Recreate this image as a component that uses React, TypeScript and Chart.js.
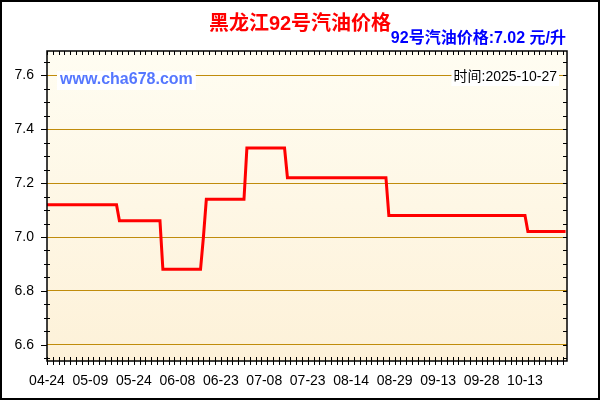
import React, { useEffect, useRef } from 'react'
import { Chart, registerables } from 'chart.js'

Chart.register(...registerables)

const FONT = '"Liberation Sans", Arial, "Noto Sans CJK SC", sans-serif'

// 横轴标签, 每 15 个数据点一个
const xTickLabels = ['04-24', '05-09', '05-24', '06-08', '06-23', '07-08', '07-23', '08-14', '08-29', '09-13', '09-28', '10-13']
const yTickValues = [6.6, 6.8, 7.0, 7.2, 7.4, 7.6]

// 每日价格 (元/升), 每行 15 个点
const price = [
  7.12, 7.12, 7.12, 7.12, 7.12, 7.12, 7.12, 7.12, 7.12, 7.12, 7.12, 7.12, 7.12, 7.12, 7.12,
  7.12, 7.12, 7.12, 7.12, 7.12, 7.12, 7.12, 7.12, 7.12, 7.12, 7.06, 7.06, 7.06, 7.06, 7.06,
  7.06, 7.06, 7.06, 7.06, 7.06, 7.06, 7.06, 7.06, 7.06, 7.06, 6.88, 6.88, 6.88, 6.88, 6.88,
  6.88, 6.88, 6.88, 6.88, 6.88, 6.88, 6.88, 6.88, 6.88, 7.00, 7.14, 7.14, 7.14, 7.14, 7.14,
  7.14, 7.14, 7.14, 7.14, 7.14, 7.14, 7.14, 7.14, 7.14, 7.33, 7.33, 7.33, 7.33, 7.33, 7.33,
  7.33, 7.33, 7.33, 7.33, 7.33, 7.33, 7.33, 7.33, 7.22, 7.22, 7.22, 7.22, 7.22, 7.22, 7.22,
  7.22, 7.22, 7.22, 7.22, 7.22, 7.22, 7.22, 7.22, 7.22, 7.22, 7.22, 7.22, 7.22, 7.22, 7.22,
  7.22, 7.22, 7.22, 7.22, 7.22, 7.22, 7.22, 7.22, 7.22, 7.22, 7.22, 7.22, 7.22, 7.08, 7.08,
  7.08, 7.08, 7.08, 7.08, 7.08, 7.08, 7.08, 7.08, 7.08, 7.08, 7.08, 7.08, 7.08, 7.08, 7.08,
  7.08, 7.08, 7.08, 7.08, 7.08, 7.08, 7.08, 7.08, 7.08, 7.08, 7.08, 7.08, 7.08, 7.08, 7.08,
  7.08, 7.08, 7.08, 7.08, 7.08, 7.08, 7.08, 7.08, 7.08, 7.08, 7.08, 7.08, 7.08, 7.08, 7.08,
  7.08, 7.02, 7.02, 7.02, 7.02, 7.02, 7.02, 7.02, 7.02, 7.02, 7.02, 7.02, 7.02, 7.02, 7.02,
]

const titleText = '黑龙江92号汽油价格'
const latestText = '92号汽油价格:7.02 元/升'
const siteText = 'www.cha678.com'
const dateText = '时间:2025-10-27'

// 背景渐变、边框、刻度和文字
const decor = {
  id: 'decor',
  beforeDraw (chart: any) {
    const { ctx, chartArea: a, width, height } = chart
    ctx.save()
    ctx.fillStyle = '#ffffff'
    ctx.fillRect(0, 0, width, height)
    const g = ctx.createLinearGradient(0, a.top, 0, a.bottom)
    g.addColorStop(0, '#fffdf2')
    g.addColorStop(1, '#fdf1d8')
    ctx.fillStyle = g
    ctx.fillRect(a.left, a.top, a.right - a.left, a.bottom - a.top)
    ctx.restore()
  },
  afterDraw (chart: any) {
    const { ctx, chartArea: a, width, height } = chart
    const x = chart.scales.x
    const y = chart.scales.y
    ctx.save()

    // 刻度
    ctx.strokeStyle = '#000'
    ctx.lineWidth = 1
    ctx.beginPath()
    for (let k = Math.ceil(y.min / 0.05 - 1e-6); k * 0.05 <= y.max + 1e-6; k++) {
      const py = Math.round(y.getPixelForValue(k * 0.05)) + 0.5
      if (k % 4 === 0) {
        ctx.moveTo(a.left - 6, py)
        ctx.lineTo(a.left, py)
      } else {
        ctx.moveTo(a.left - 3, py)
        ctx.lineTo(a.left + 3, py)
      }
      ctx.moveTo(a.right - 4, py)
      ctx.lineTo(a.right, py)
    }
    for (let i = 0; i <= x.max; i += 2) {
      const px = Math.round(x.getPixelForValue(i)) + 0.5
      ctx.moveTo(px, a.top)
      ctx.lineTo(px, a.top + 4)
      ctx.moveTo(px, a.bottom - 4)
      ctx.lineTo(px, a.bottom + 4)
    }
    ctx.stroke()

    ctx.lineWidth = 1.5
    ctx.strokeRect(a.left, a.top, a.right - a.left, a.bottom - a.top)
    ctx.lineWidth = 2
    ctx.strokeRect(1, 1, width - 2, height - 2)

    // 文字
    ctx.textBaseline = 'middle'
    ctx.font = `bold 20px ${FONT}`
    ctx.fillStyle = '#ff0000'
    ctx.textAlign = 'center'
    ctx.fillText(titleText, 300, 24)

    ctx.font = `bold 16px ${FONT}`
    ctx.fillStyle = '#0000ff'
    ctx.textAlign = 'right'
    ctx.fillText(latestText, 566, 39)

    ctx.textAlign = 'left'
    const sw = ctx.measureText(siteText).width
    ctx.fillStyle = '#ffffff'
    ctx.fillRect(57, 71, sw + 6, 19)
    ctx.fillStyle = '#5577ff'
    ctx.fillText(siteText, 60, 80)

    ctx.font = `14px ${FONT}`
    ctx.textAlign = 'right'
    const dw = ctx.measureText(dateText).width
    ctx.fillStyle = '#ffffff'
    ctx.fillRect(557 - dw - 2, 70, dw + 4, 16)
    ctx.fillStyle = '#000'
    ctx.fillText(dateText, 557, 77.5)

    ctx.restore()
  },
}

export default function App () {
  const chartRef = useRef<HTMLCanvasElement>(null)
  const chartInstance = useRef<Chart | null>(null)

  useEffect(() => {
    if (chartInstance.current) {
      chartInstance.current.destroy()
    }
    if (!chartRef.current) return

    chartInstance.current = new Chart(chartRef.current, {
      type: 'line',
      data: {
        datasets: [{
          data: price.map((v, i) => ({ x: i, y: v })),
          borderColor: '#ff0000',
          borderWidth: 3,
          pointRadius: 0,
          tension: 0,
          fill: false,
        }],
      },
      options: {
        responsive: true,
        maintainAspectRatio: false,
        animation: false,
        layout: { padding: { left: 0, right: 33, top: 51, bottom: 0 } },
        plugins: {
          legend: { display: false },
          tooltip: { enabled: false },
        },
        scales: {
          x: {
            type: 'linear',
            min: 0,
            max: 179.5,
            afterBuildTicks: (s: any) => { s.ticks = xTickLabels.map((_, i) => ({ value: i * 15 })) },
            afterFit: (s: any) => { s.height = 39 },
            border: { display: false },
            grid: { drawOnChartArea: false, drawTicks: false },
            ticks: {
              autoSkip: false,
              maxRotation: 0,
              padding: 12,
              color: '#000',
              font: { family: FONT, size: 14 },
              callback: (v: any) => xTickLabels[Math.round(v / 15)] ?? '',
            },
          },
          y: {
            min: 6.54,
            max: 7.69,
            afterBuildTicks: (s: any) => { s.ticks = yTickValues.map(v => ({ value: v })) },
            afterFit: (s: any) => { s.width = 47 },
            border: { display: false },
            grid: { color: '#c08c0c', lineWidth: 1, drawTicks: false },
            ticks: {
              padding: 13,
              color: '#000',
              font: { family: FONT, size: 14 },
              callback: (v: any) => Number(v).toFixed(1),
            },
          },
        },
      },
      plugins: [decor],
    })

    return () => {
      if (chartInstance.current) {
        chartInstance.current.destroy()
        chartInstance.current = null
      }
    }
  }, [])

  return (
    <div style={{ position: 'fixed', left: 0, top: 0, width: 600, height: 400, background: '#fff' }}>
      <canvas ref={chartRef} />
    </div>
  )
}
